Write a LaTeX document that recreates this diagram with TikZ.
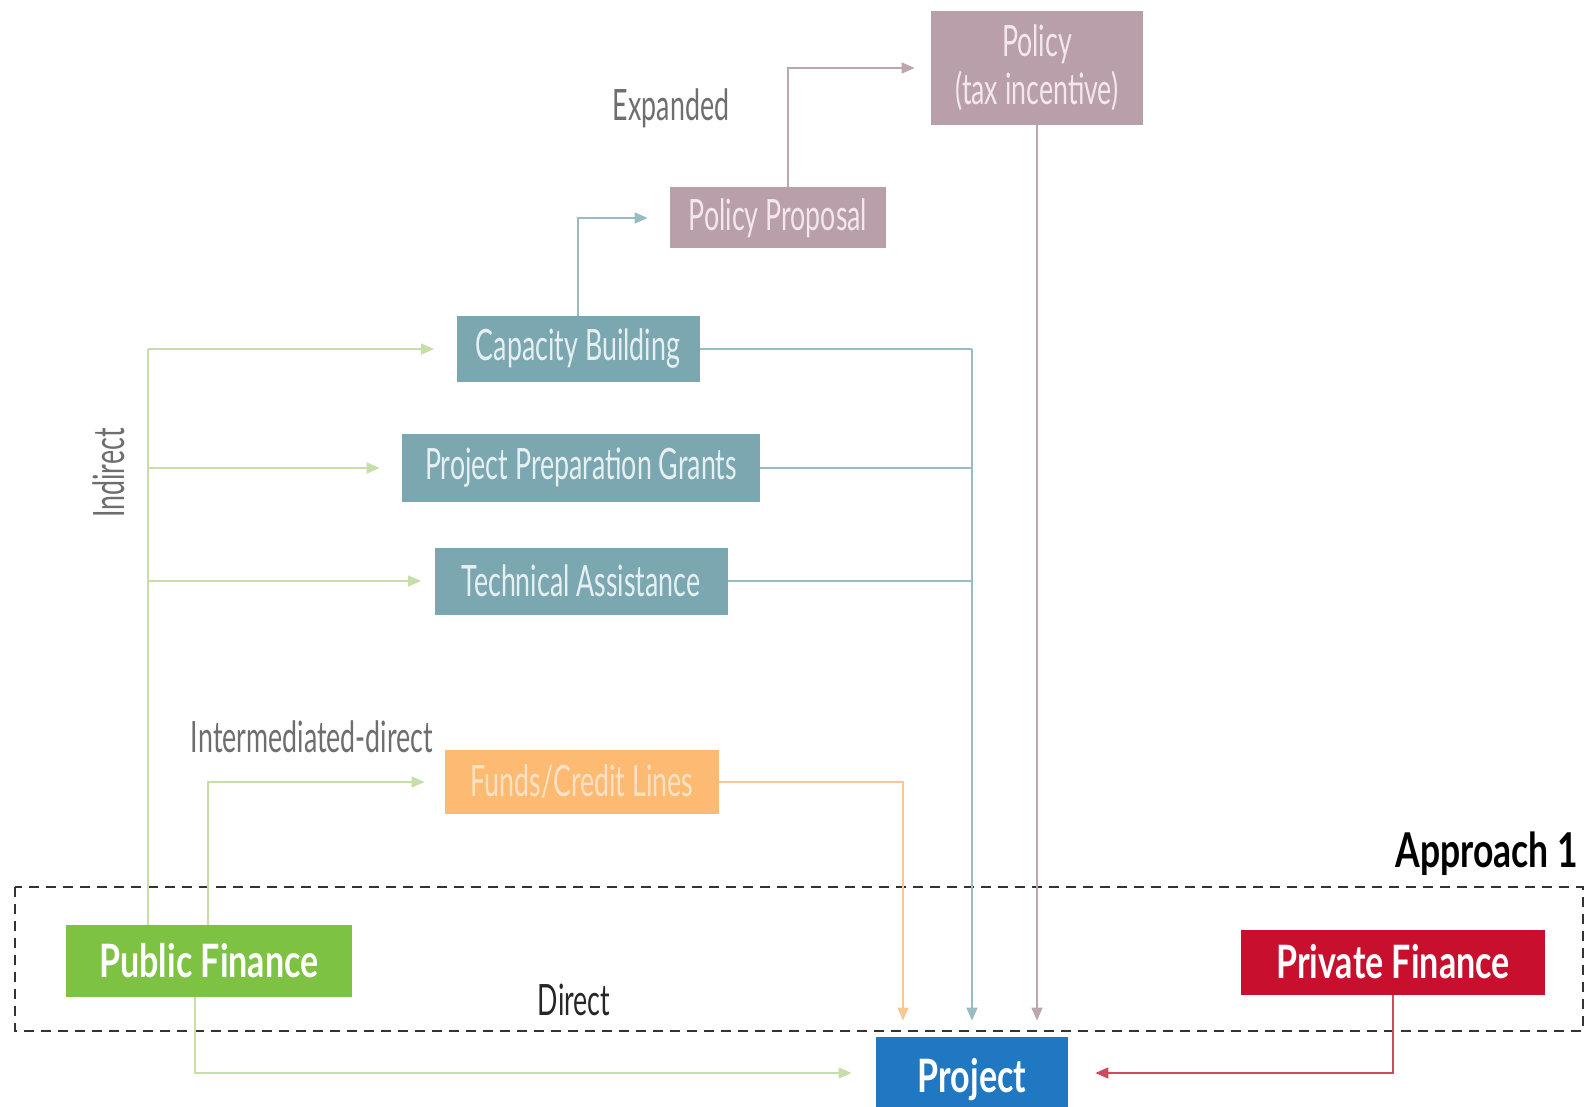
\documentclass[tikz,border=0pt]{standalone}
\usepackage{fontspec}
\setmainfont{Lato}
\newfontfamily\thinfont[FakeStretch=0.62]{Lato}
\newfontfamily\headfont[FakeStretch=0.74]{Lato}
\usetikzlibrary{arrows.meta,calc}

\definecolor{policymauve}{HTML}{B89FAA}
\definecolor{mauvetext}{HTML}{F3E6EC}
\definecolor{mauveline}{HTML}{BCA7B1}
\definecolor{buildteal}{HTML}{7BA7B0}
\definecolor{tealtext}{HTML}{E6F0F2}
\definecolor{tealline}{HTML}{98BCC4}
\definecolor{fundsorange}{HTML}{FDBA73}
\definecolor{orangetext}{HTML}{FFE2C4}
\definecolor{orangeline}{HTML}{F7C896}
\definecolor{publicgreen}{HTML}{7DC242}
\definecolor{greenline}{HTML}{C6DFA9}
\definecolor{privatered}{HTML}{C8102E}
\definecolor{redline}{HTML}{CF4A5E}
\definecolor{projectblue}{HTML}{1F78C1}
\definecolor{labelgrey}{HTML}{6E6E6E}

\begin{document}
\begin{tikzpicture}[
  x=0.5pt, y=-0.5pt,
  flowbox/.style={rectangle, inner sep=0pt, align=center,
    font=\thinfont\fontsize{21.6}{24}\selectfont},
  mauvebox/.style={flowbox, fill=policymauve, text=mauvetext},
  tealbox/.style={flowbox, fill=buildteal, text=tealtext},
  orangebox/.style={flowbox, fill=fundsorange, text=orangetext},
  sourcebox/.style={rectangle, inner sep=0pt, text=white,
    font=\headfont\bfseries\fontsize{23}{26}\selectfont},
  flowlabel/.style={text=labelgrey, font=\thinfont\fontsize{21.6}{24}\selectfont},
  link/.style={line width=0.8pt},
  arrowlink/.style={link, -{Triangle[length=6.5pt,width=5.5pt]}},
  node distance=1cm and 1cm
]
\useasboundingbox (0,0) rectangle (1585,1107);

% Boxes
\node[mauvebox, minimum width=106pt, minimum height=57pt] (policy) at (1037,68) {Policy\\(tax incentive)};
\node[mauvebox, minimum width=108pt, minimum height=30.5pt] (proposal) at (778,218) {Policy Proposal};
\node[tealbox, minimum width=121.5pt, minimum height=33pt] (capacity) at (578,349) {Capacity Building};
\node[tealbox, minimum width=179pt, minimum height=34pt] (grants) at (581,468) {Project Preparation Grants};
\node[tealbox, minimum width=146.5pt, minimum height=33.5pt] (techassist) at (581,581) {Technical Assistance};
\node[orangebox, minimum width=137pt, minimum height=32pt] (funds) at (582,782) {Funds/Credit Lines};
\node[sourcebox, fill=publicgreen, minimum width=143pt, minimum height=36pt] (public) at (209,961) {Public Finance};
\node[sourcebox, fill=privatered, minimum width=152pt, minimum height=32.5pt] (private) at (1393,962) {Private Finance};
\node[sourcebox, fill=projectblue, minimum width=96pt, minimum height=43pt] (project) at (972,1080) {Project};

% Labels
\node[flowlabel] (expanded) at (671,108) {Expanded};
\node[flowlabel] (intermediated) at (312,737) {Intermediated-direct};
\node[flowlabel, rotate=90] (indirectlabel) at (109,473) {Indirect};
\node[flowlabel, text=black!85] (direct) at (574,1000) {Direct};
\node[anchor=east, font=\headfont\bfseries\fontsize{24}{28}\selectfont] (approach) at (1585,854) {Approach 1};

% Approach frame
\draw[line width=0.9pt, draw=black!80, dash pattern=on 5pt off 3.5pt] (15,887) rectangle (1583,1031);

% Indirect finance
\coordinate (indirect) at (148,0);
\draw[link, greenline] (public.north -| indirect) -- (indirect |- capacity.west);
\foreach \target/\gap in {capacity/11pt, grants/11pt, techassist/6.5pt}
  \draw[arrowlink, greenline, shorten >=\gap] (indirect |- \target.west) -- (\target.west);

% Intermediated-direct finance
\coordinate (intermediate) at (208,0);
\draw[arrowlink, greenline, shorten >=10pt] (public.north -| intermediate) |- (funds.west);

% Direct finance
\coordinate (direct) at (195,1073);
\coordinate (privatecorner) at (1393,1073);
\draw[arrowlink, greenline, shorten >=12pt] (public.south -| direct) -- (direct) -- (direct -| project.west);
\draw[arrowlink, redline, shorten >=13.5pt] (private.south) -- (privatecorner) -- (privatecorner -| project.east);

% Into the project
\draw[arrowlink, orangeline, shorten >=8pt] (funds.east) -| ($(project.north)+(-69,0)$);
\foreach \source in {capacity, grants, techassist}
  \draw[link, tealline] (\source.east) -- (\source.east -| project.north);
\draw[arrowlink, tealline, shorten >=8pt] (capacity.east -| project.north) -- (project.north);
\draw[arrowlink, mauveline, shorten >=8pt] (policy.south) -- (policy.south |- project.north);

% Expanded
\draw[arrowlink, tealline, shorten >=11pt] (capacity.north) |- (proposal.west);
\draw[arrowlink, mauveline, shorten >=8pt] ($(proposal.north)+(10,0)$) |- (policy.west);
\end{tikzpicture}
\end{document}
